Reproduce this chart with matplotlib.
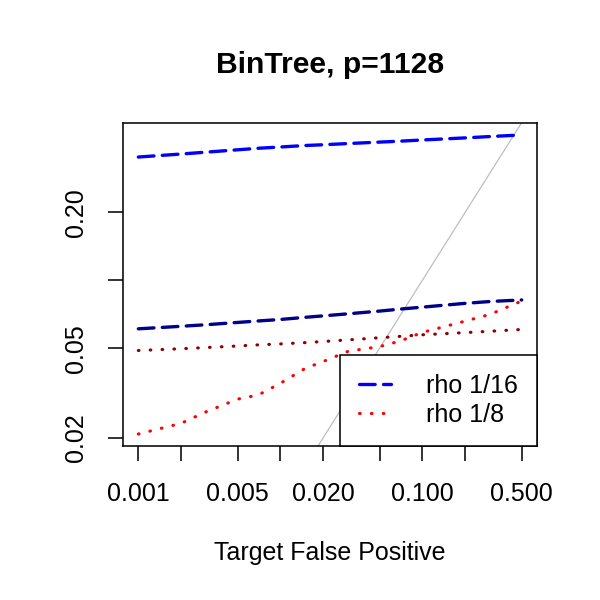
import matplotlib
matplotlib.use("Agg")
import matplotlib.pyplot as plt
import numpy as np

plt.rcParams['font.family'] = ['Liberation Sans', 'DejaVu Sans']

# target false positive rate
fp = [0.001, 0.002, 0.003, 0.005, 0.007, 0.01, 0.015, 0.02, 0.03, 0.05, 0.07, 0.1, 0.2, 0.3, 0.5]

# rho 1/16 (dashed)
rho16_a = [0.352, 0.363, 0.370, 0.379, 0.385, 0.390, 0.396, 0.399, 0.404, 0.410, 0.414, 0.419, 0.428, 0.434, 0.441]
rho16_b = [0.0609, 0.0625, 0.0635, 0.0650, 0.0660, 0.0670, 0.0685, 0.0695, 0.0710, 0.0730, 0.0745, 0.0760, 0.0790, 0.0805, 0.0818]
# rho 1/8 (dotted)
rho8_a = [0.0488, 0.0497, 0.0503, 0.0511, 0.0517, 0.0522, 0.0529, 0.0535, 0.0544, 0.0556, 0.0564, 0.0573, 0.0586, 0.0594, 0.0605]
rho8_b = [0.0208, 0.0232, 0.0261, 0.0297, 0.0310, 0.0349, 0.0407, 0.0436, 0.0484, 0.0508, 0.0538, 0.0587, 0.0659, 0.0706, 0.0809]

xticks = [0.001, 0.002, 0.005, 0.01, 0.02, 0.05, 0.1, 0.2, 0.5]
xlabels = ['0.001', '', '0.005', '', '0.020', '', '0.100', '', '0.500']
yticks = [0.02, 0.05, 0.1, 0.2]
ylabels = ['0.02', '0.05', '', '0.20']

fig = plt.figure(figsize=(4, 4), dpi=150)
ax = fig.add_axes([0.205, 0.2567, 0.69, 0.5383])

dash = (4.7, 2.5)
dot = (0.2, 3.6)
ax.axline((0.001, 0.001), (0.5, 0.5), color='#BEBEBE', lw=0.6, zorder=1)
ax.plot(fp, rho16_a, color='blue', lw=1.6, dashes=dash, dash_capstyle='round', label='rho 1/16')
ax.plot(fp, rho16_b, color='#00008B', lw=1.6, dashes=dash, dash_capstyle='round')
ax.plot(fp, rho8_a, color='#8B0000', lw=1.5, dashes=dot, dash_capstyle='round')
ax.plot(fp, rho8_b, color='red', lw=1.5, dashes=dot, dash_capstyle='round', label='rho 1/8')

ax.set_xscale('log')
ax.set_yscale('log')


def padded(vals):
    lv = np.log10([min(vals), max(vals)])
    d = 0.04 * (lv[1] - lv[0])
    return 10 ** (lv[0] - d), 10 ** (lv[1] + d)


ax.set_xlim(*padded(fp))
ax.set_ylim(*padded(rho16_a + rho16_b + rho8_a + rho8_b))

ax.minorticks_off()
ax.set_xticks(xticks)
ax.set_xticklabels(xlabels)
ax.set_yticks(yticks)
ax.set_yticklabels(ylabels, rotation=90, va='center')
ax.tick_params(length=7.2, width=0.75, labelsize=12, direction='out')
ax.tick_params(axis='x', pad=10)
ax.tick_params(axis='y', pad=9.5)
for s in ax.spines.values():
    s.set_linewidth(0.75)

ax.set_title('BinTree, p=1128', fontsize=14.4, fontweight='bold', pad=24)
ax.set_xlabel('Target False Positive', fontsize=12, labelpad=17)

leg = ax.legend(loc='lower right', borderaxespad=0, fancybox=False, framealpha=1,
                edgecolor='black', fontsize=12, handlelength=1.3, handletextpad=1.4,
                borderpad=0.75, labelspacing=0.2)
leg.get_frame().set_linewidth(0.75)

fig.savefig('out.png', dpi=150)
